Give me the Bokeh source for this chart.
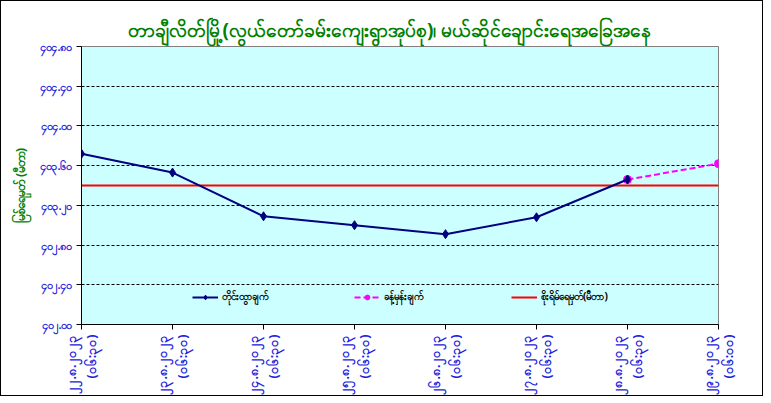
from bokeh.plotting import figure
from bokeh.models import Legend, LegendItem, ColumnDataSource, FixedTicker
from bokeh.embed import file_html
from bokeh.resources import INLINE
import math

title_text = "တာချီလိတ်မြို့(လွယ်တော်ခမ်းကျေးရွာအုပ်စု)၊ မယ်ဆိုင်ချောင်းရေအခြေအနေ"
y_title = "မြစ်ရေမှတ် (မီတာ)"

x_labels = [
    "၂၂.၈.၂၀၂၃\n(၀၆:၃၀)",
    "၂၃.၈.၂၀၂၃\n(၀၆:၃၀)",
    "၂၄.၈.၂၀၂၃\n(၀၆:၃၀)",
    "၂၅.၈.၂၀၂၃\n(၀၆:၃၀)",
    "၂၆.၈.၂၀၂၃\n(၀၆:၃၀)",
    "၂၇.၈.၂၀၂၃\n(၀၆:၃၀)",
    "၂၈.၈.၂၀၂၃\n(၀၆:၃၀)",
    "၂၉.၈.၂၀၂၃\n(၀၆:၀၀)",
]
observed = [403.72, 403.53, 403.09, 403.00, 402.91, 403.08, 403.46]
forecast_idx = [6, 7]
forecast = [403.46, 403.62]
warning_level = 403.40

y_ticks = [402.0, 402.4, 402.8, 403.2, 403.6, 404.0, 404.4, 404.8]
y_tick_labels = ["၄၀၂.၀၀", "၄၀၂.၄၀", "၄၀၂.၈၀", "၄၀၃.၂၀", "၄၀၃.၆၀", "၄၀၄.၀၀", "၄၀၄.၄၀", "၄၀၄.၈၀"]

legend_labels = ["တိုင်းထွာချက်", "ခန့်မှန်းချက်", "စိုးရိမ်ရေမှတ်(မီတာ)"]

FONT = "Noto Sans"
BLUE = "#2222dd"
GREEN = "#008000"

n = len(x_labels)
p = figure(width=763, height=396, output_backend="svg", toolbar_location=None,
           x_range=(0, n - 1), y_range=(y_ticks[0], y_ticks[-1]),
           min_border_left=80, min_border_right=46, min_border_top=45, min_border_bottom=71)
p.styles = {"border": "1px solid black", "box-sizing": "border-box"}
p.background_fill_color = "#ccffff"
p.border_fill_color = "white"
p.outline_line_color = "#808080"

p.title.text = title_text
p.title.align = "left"
p.title.vertical_align = "top"
p.title.text_color = GREEN
p.title.text_font = FONT
p.title.text_font_size = "19px"
p.title.text_font_style = "bold"
p.title.offset = 46
p.title.standoff = 4

p.xgrid.grid_line_color = None
p.ygrid.grid_line_color = "black"
p.ygrid.grid_line_dash = "3 2"
p.ygrid.grid_line_width = 1

p.xaxis.ticker = FixedTicker(ticks=list(range(n)))
p.xaxis.major_label_overrides = {i: lab for i, lab in enumerate(x_labels)}
p.xaxis.major_label_orientation = math.pi / 2
p.xaxis.major_label_text_color = BLUE
p.xaxis.major_label_text_font = FONT
p.xaxis.major_label_text_font_size = "12.5px"
p.xaxis.major_label_text_font_style = "bold"
p.xaxis.minor_tick_line_color = None
p.xaxis.major_tick_out = 5
p.xaxis.major_tick_in = 0
p.xaxis.axis_line_color = "black"

p.yaxis.ticker = FixedTicker(ticks=y_ticks)
p.yaxis.major_label_overrides = {t: lab for t, lab in zip(y_ticks, y_tick_labels)}
p.yaxis.major_label_text_color = BLUE
p.yaxis.major_label_text_font = FONT
p.yaxis.major_label_text_font_size = "11px"
p.yaxis.major_label_text_font_style = "bold"
p.yaxis.minor_tick_line_color = None
p.yaxis.major_tick_out = 5
p.yaxis.major_tick_in = 0
p.yaxis.axis_label = y_title
p.yaxis.axis_label_text_color = GREEN
p.yaxis.axis_label_text_font = FONT
p.yaxis.axis_label_text_font_size = "12px"
p.yaxis.axis_label_text_font_style = "bold"
p.yaxis.axis_label_standoff = 8

obs_src = ColumnDataSource(dict(x=list(range(len(observed))), y=observed))
fc_src = ColumnDataSource(dict(x=forecast_idx, y=forecast))
warn_src = ColumnDataSource(dict(x=[0, n - 1], y=[warning_level, warning_level]))

r_warn = p.line("x", "y", source=warn_src, line_color="#ff0000", line_width=2)
r_fc_line = p.line("x", "y", source=fc_src, line_color="#ff00ff", line_width=2, line_dash="6 3")
r_fc_pts = p.scatter("x", "y", source=fc_src, marker="circle", size=8, fill_color="#ff00ff", line_color="#ff00ff")
r_obs_line = p.line("x", "y", source=obs_src, line_color="#000080", line_width=2)
r_obs_pts = p.scatter("x", "y", source=obs_src, marker="diamond", size=9, fill_color="#000080", line_color="#000080")

items = [
    (legend_labels[0], [r_obs_line, r_obs_pts], 111),
    (legend_labels[1], [r_fc_line, r_fc_pts], 273),
    (legend_labels[2], [r_warn], 430),
]
for lab, rends, xloc in items:
    lg = Legend(items=[LegendItem(label=lab, renderers=rends)], location=(xloc, 19),
                background_fill_alpha=0, border_line_color=None,
                label_text_font=FONT, label_text_font_size="10px", label_text_font_style="bold",
                label_text_color="black", glyph_width=26, glyph_height=12,
                padding=2, margin=0, label_standoff=4)
    p.add_layout(lg, "center")

open("out.html", "w").write(file_html(p, INLINE))
